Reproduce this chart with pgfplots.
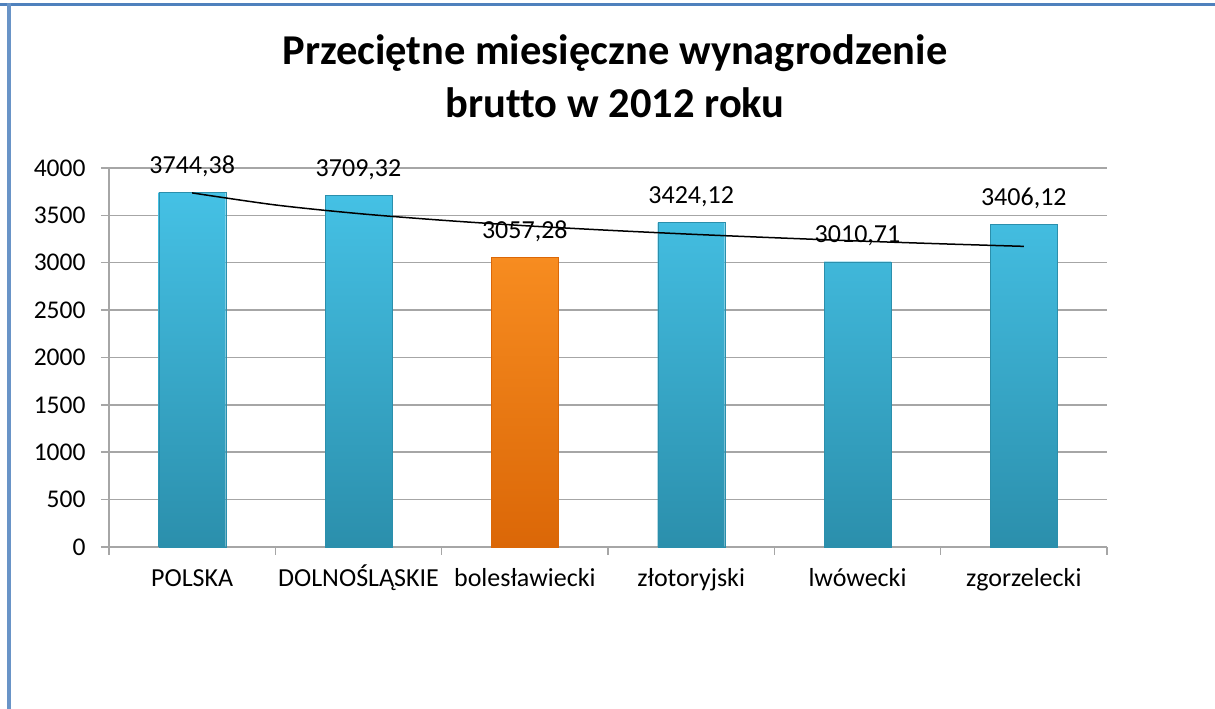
\documentclass[border=0pt]{standalone}
\usepackage{pgfplots}
\pgfplotsset{compat=1.18}
\usepackage{fontspec}
\setmainfont{Carlito}[Ligatures=NoCommon]
\definecolor{frameblue}{HTML}{4F81BD}
\definecolor{gridgray}{HTML}{A6A6A6}
\definecolor{bartop}{HTML}{45C1E5}
\definecolor{barmid}{HTML}{38B2D7}
\definecolor{barbot}{HTML}{2B8FAC}
\definecolor{bartopo}{HTML}{F78C20}
\definecolor{barmido}{HTML}{F07A12}
\definecolor{barboto}{HTML}{DB6707}
\begin{document}
\begin{tikzpicture}
\useasboundingbox (0pt,0pt) rectangle (1215pt,709pt);
\draw[frameblue, line width=3pt] (0pt,704.5pt) -- (1215pt,704.5pt);
\draw[frameblue!85!white, line width=4.5pt] (9.2pt,706pt) -- (9.2pt,0pt);
\node[anchor=base, font=\fontsize{42.5}{50}\selectfont\bfseries] at (615pt,644pt) {Przeciętne miesięczne wynagrodzenie};
\node[anchor=base, font=\fontsize{42.5}{50}\selectfont\bfseries] at (615pt,591pt) {brutto w 2012 roku};
\begin{axis}[
  at={(109pt,162pt)}, anchor=south west,
  scale only axis, width=998pt, height=379pt,
  xmin=-0.5, xmax=5.5, ymin=0, ymax=4000,
  clip=false,
  axis x line*=bottom, axis y line*=left,
  axis line style={gridgray, line width=1.5pt, -},
  ytick={0,500,...,4000},
  ymajorgrids, grid style={gridgray, line width=1.5pt},
  xtick={0,...,5},
  xticklabels={POLSKA, DOLNOŚLĄSKIE, bolesławiecki, złotoryjski, lwówecki, zgorzelecki},
  xtick style={draw=none},
  extra x ticks={-0.5,0.5,...,5.5},
  extra x tick labels={},
  extra x tick style={xtick style={draw=gridgray, line width=1.5pt}, grid=none},
  ytick style={draw=gridgray, line width=1.5pt},
  tick align=outside, major tick length=8pt,
  tick label style={font=\fontsize{25.5}{30}\selectfont},
  yticklabel style={xshift=-12pt},
  xticklabel style={font=\fontsize{26}{31}\selectfont, anchor=north, text height=28pt, text depth=7pt},
  /pgf/number format/assume math mode=true,
  /pgf/number format/1000 sep={},
]
\addplot[ybar, bar width=67pt, bar shift=0pt, draw=barbot, line width=0.3pt,
  top color=bartop, middle color=barmid, bottom color=barbot,
  nodes near coords, nodes near coords style={font=\fontsize{26}{31}\selectfont, anchor=base, yshift=19pt, black,
  /pgf/number format/.cd, fixed, fixed zerofill, precision=2, use comma, 1000 sep={}, assume math mode=true}]
coordinates {(0,3744.38) (1,3709.32) (3,3424.12) (4,3010.71) (5,3406.12)};
\addplot[ybar, bar width=67pt, bar shift=0pt, draw=barboto, line width=0.3pt,
  top color=bartopo, middle color=barmido, bottom color=barboto,
  nodes near coords, nodes near coords style={font=\fontsize{26}{31}\selectfont, anchor=base, yshift=19pt, black,
  /pgf/number format/.cd, fixed, fixed zerofill, precision=2, use comma, 1000 sep={}, assume math mode=true}]
coordinates {(2,3057.28)};
\addplot[black, line width=1.5pt, smooth, no marks]
coordinates {(0,3737) (0.5,3610) (1,3519) (1.5,3449) (2,3391) (2.5,3343) (3,3301) (3.5,3264) (4,3230) (4.5,3200) (5,3173)};
\end{axis}
\end{tikzpicture}
\end{document}
